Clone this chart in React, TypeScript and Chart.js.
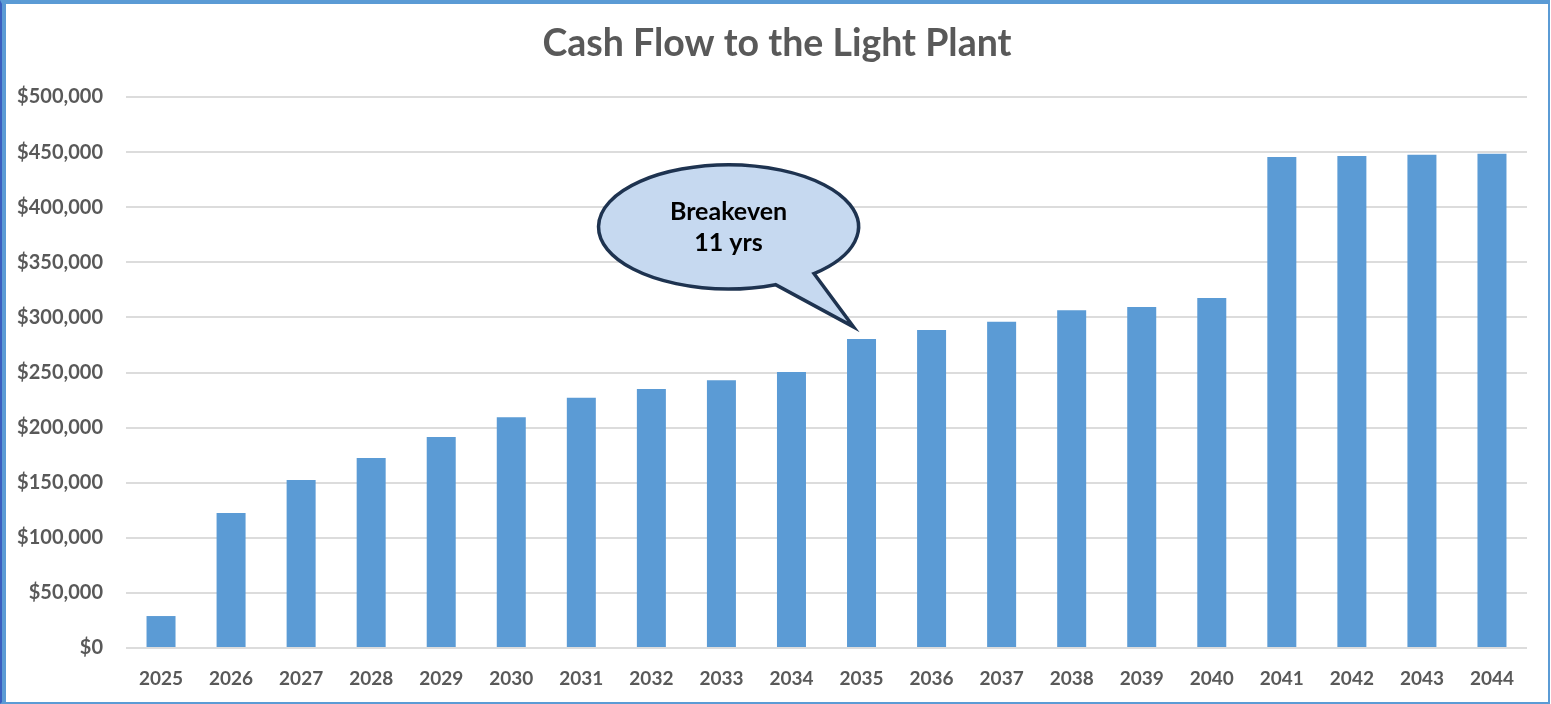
import React, { useEffect, useRef } from "react";
import { Chart, registerables } from "chart.js";

Chart.register(...registerables);

const chartTitle = "Cash Flow to the Light Plant";
const years = [
  "2025", "2026", "2027", "2028", "2029", "2030", "2031", "2032", "2033", "2034",
  "2035", "2036", "2037", "2038", "2039", "2040", "2041", "2042", "2043", "2044",
];
const cashFlow = [
  29000, 122500, 152500, 172500, 191500, 209500, 227000, 235000, 243000, 250500,
  280500, 288500, 296000, 306500, 309500, 317500, 445500, 446500, 447500, 448500,
];
const yMin = 0;
const yMax = 500000;
const yStep = 50000;
const calloutLines = ["Breakeven", "11 yrs"];
const calloutYear = "2035";

const FONT = "Lato, 'Open Sans', 'DejaVu Sans', sans-serif";

// Title centred on the whole canvas (Chart.js' own title is centred inside the padded box)
const centeredTitlePlugin = {
  id: "centeredTitle",
  afterDraw(chart: any) {
    const ctx = chart.ctx;
    ctx.save();
    ctx.fillStyle = "#595959";
    ctx.font = `bold 37.5px ${FONT}`;
    ctx.textAlign = "center";
    ctx.textBaseline = "alphabetic";
    ctx.fillText(chartTitle, chart.width / 2, 52);
    ctx.restore();
  },
};

const calloutPlugin = {
  id: "breakevenCallout",
  afterDatasetsDraw(chart: any) {
    const idx = years.indexOf(calloutYear);
    const el = chart.getDatasetMeta(0).data[idx];
    if (!el) return;
    const ctx = chart.ctx;
    const tipX = el.x - 8;
    const tipY = el.y - 12;
    const cx = tipX - 125;
    const cy = tipY - 100;
    const rx = 130;
    const ry = 62;
    const tA = (48.9 * Math.PI) / 180;
    const tB = (68.8 * Math.PI) / 180;
    ctx.save();
    ctx.beginPath();
    ctx.ellipse(cx, cy, rx, ry, 0, tB, tA, false);
    ctx.lineTo(tipX, tipY);
    ctx.closePath();
    ctx.fillStyle = "#C6D9F0";
    ctx.fill();
    ctx.lineWidth = 3.5;
    ctx.lineJoin = "miter";
    ctx.strokeStyle = "#1E3350";
    ctx.stroke();
    ctx.fillStyle = "#000000";
    ctx.font = `bold 25px ${FONT}`;
    ctx.textAlign = "center";
    ctx.textBaseline = "middle";
    ctx.fillText(calloutLines[0], cx, cy - 15);
    ctx.fillText(calloutLines[1], cx, cy + 16);
    ctx.restore();
  },
};

export default function App() {
  const ref = useRef<HTMLCanvasElement>(null);

  useEffect(() => {
    if (!ref.current) return;
    const chart = new Chart(ref.current, {
      type: "bar",
      data: {
        labels: years,
        datasets: [
          {
            data: cashFlow,
            backgroundColor: "#5B9BD5",
            borderWidth: 0,
            categoryPercentage: 1,
            barPercentage: 0.414,
          },
        ],
      },
      options: {
        responsive: false,
        animation: false,
        devicePixelRatio: 1,
        layout: { padding: { left: 0, right: 21, top: 93, bottom: 0 } },
        plugins: {
          legend: { display: false },
          tooltip: { enabled: false },
          title: { display: false },
        },
        scales: {
          x: {
            grid: { display: false },
            border: { display: false },
            ticks: {
              color: "#595959",
              font: { family: FONT, size: 19, weight: "bold" },
              padding: 11,
              maxRotation: 0,
            },
            afterFit(scale: any) {
              scale.height = 54;
            },
          },
          y: {
            min: yMin,
            max: yMax,
            border: { display: false },
            grid: { color: "#DCDCDC", lineWidth: 2, drawTicks: false },
            ticks: {
              stepSize: yStep,
              color: "#595959",
              font: { family: FONT, size: 20, weight: "bold" },
              padding: 23,
              callback: (v: any) => "$" + Number(v).toLocaleString("en-US"),
            },
            afterFit(scale: any) {
              scale.width = 120;
            },
          },
        },
      },
      plugins: [calloutPlugin, centeredTitlePlugin],
    });
    return () => chart.destroy();
  }, []);

  return (
    <div
      style={{
        position: "fixed",
        left: 0,
        top: 0,
        width: 1550,
        height: 704,
        boxSizing: "border-box",
        borderTop: "4px solid #5B9BD5",
        borderLeft: "2px solid #3A5FC0",
        borderRight: "2px solid #5B9BD5",
        borderBottom: "2px solid #5B9BD5",
        background: "#fff",
      }}
    >
      <div style={{ borderLeft: "4px solid #5B9BD5", height: "100%", boxSizing: "border-box" }}>
        <canvas ref={ref} width={1542} height={698} style={{ display: "block" }} />
      </div>
    </div>
  );
}
